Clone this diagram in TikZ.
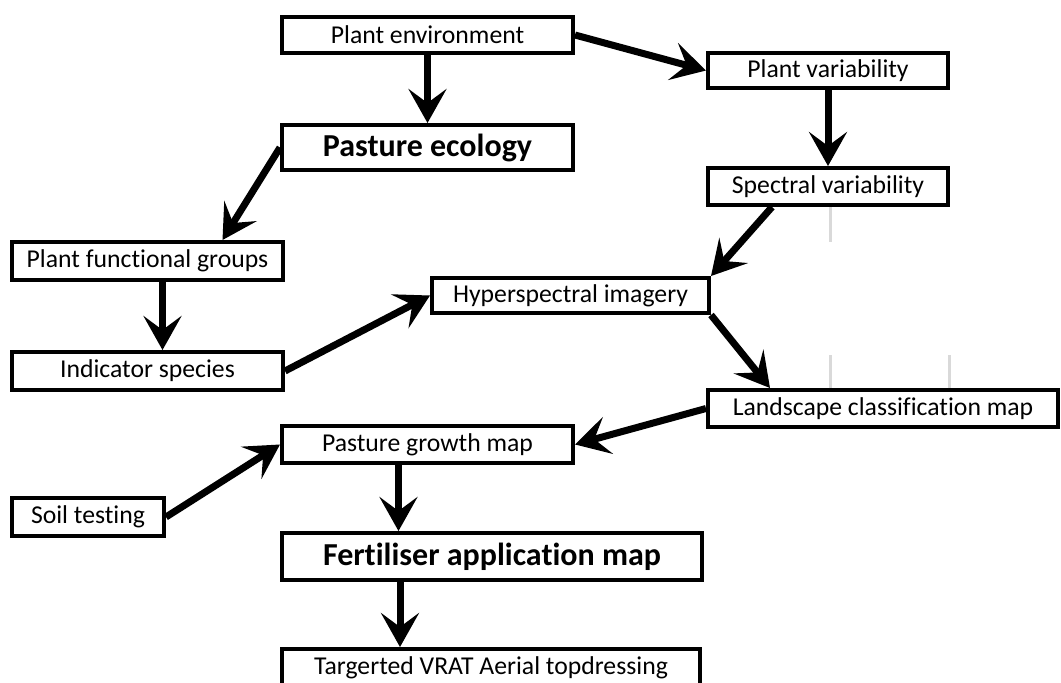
\documentclass[tikz,border=0pt]{standalone}
\usepackage{fontspec}
\setmainfont{Carlito}[Ligatures={NoCommon,NoContextual}]
\usetikzlibrary{arrows.meta,calc}

\begin{document}
\begin{tikzpicture}
	[x=1pt,y=-1pt,every node/.style={shape=rectangle,draw,line width=4pt,
		inner sep=0pt,font=\fontsize{25.7}{30}\selectfont},
	big/.style={font=\fontsize{32}{36}\selectfont\bfseries},
	flow/.style={-{Stealth[length=34pt,width=38pt,inset=14pt]},line width=7pt},
	tick/.style={draw=black!15,line width=3pt}]
	\useasboundingbox (0,0) rectangle (1061,683);
	
	% left column
	\node (env) at (427.5,35) [minimum width=291pt,minimum height=36pt] {Plant environment};
	\node (eco) at (427.5,147.5) [big,minimum width=291pt,minimum height=45pt] {Pasture ecology};
	\node (pfg) at (147.5,261) [minimum width=271pt,minimum height=38pt] {Plant functional groups};
	\node (ind) at (147.5,371) [minimum width=271pt,minimum height=38pt] {Indicator species};
	\node (soil) at (88,517) [minimum width=152pt,minimum height=38pt] {Soil testing};
	
	% right column
	\node (pvar) at (828,70.5) [minimum width=240pt,minimum height=35pt] {Plant variability};
	\node (svar) at (828,186.5) [minimum width=240pt,minimum height=37pt] {Spectral variability};
	\node (hyp) at (570.5,295.5) [minimum width=277pt,minimum height=35pt] {Hyperspectral imagery};
	\node (land) at (883,408.5) [minimum width=350pt,minimum height=37pt] {Landscape classification map};
	
	% bottom
	\node (pgm) at (427.5,444.5) [minimum width=291pt,minimum height=37pt] {Pasture growth map};
	\node (fert) at (492,556.5) [big,minimum width=420pt,minimum height=47pt] {Fertiliser application map};
	\node (targ) at (491,668) [minimum width=418pt,minimum height=38pt] {Targerted VRAT Aerial topdressing};
	
	\path
	\foreach \startNode/\endNode in {env.east/pvar.west, env.south/eco.north,
		pvar.south/svar.north, ind.east/hyp.west, land.west/pgm.east, soil.east/pgm.west}
	{
		(\startNode) edge[flow] (\endNode)
	};
	\draw[flow] (eco.west) -- ([xshift=75pt]pfg.north);
	\draw[flow] ([xshift=15pt]pfg.south) -- ([xshift=15pt]ind.north);
	\draw[flow] ([xshift=-56pt]svar.south) -- (hyp.north east);
	\draw[flow] (hyp.south east) -- ([xshift=-113pt]land.north);
	\draw[flow] ([xshift=-29pt]pgm.south) -- ([xshift=-29pt]pgm.south |- fert.north);
	\draw[flow] ([xshift=-92pt]fert.south) -- ([xshift=-92pt]fert.south |- targ.north);
	
	% faint cell marks
	\draw[tick] ([xshift=2pt]svar.south) -- ++(0,35);
	\draw[tick] ([xshift=-53pt]land.north) -- ++(0,-33);
	\draw[tick] ([xshift=66pt]land.north) -- ++(0,-33);
\end{tikzpicture}
\end{document}
